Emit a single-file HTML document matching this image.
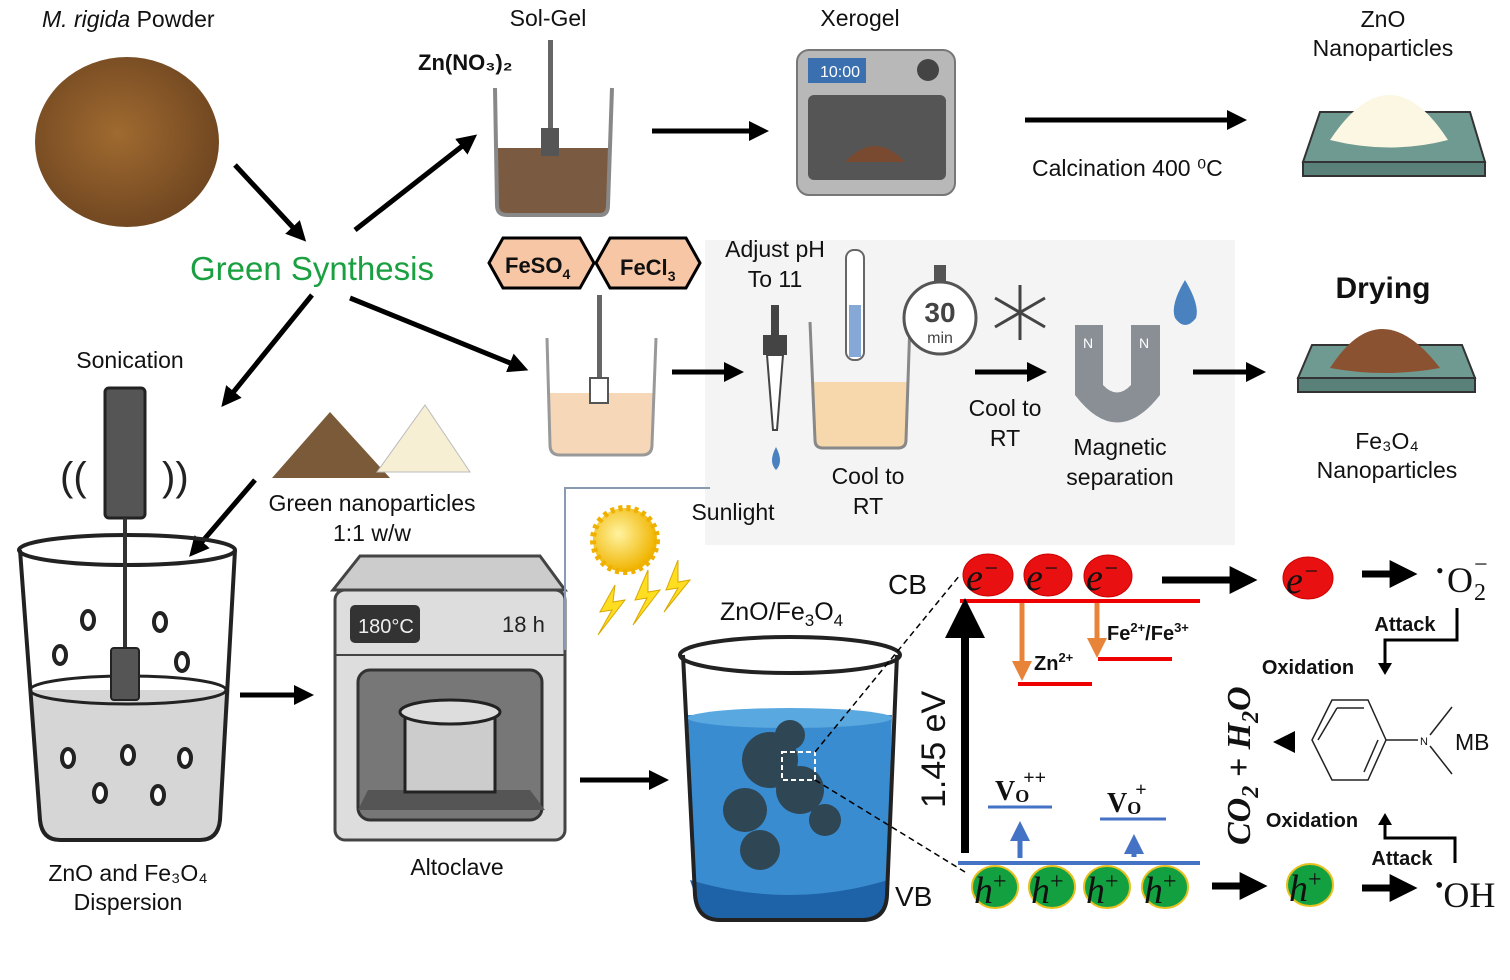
<!DOCTYPE html>
<html><head><meta charset="utf-8"><style>
html,body{margin:0;padding:0;background:#fff;width:1510px;height:980px;overflow:hidden}
svg{display:block}
text{font-family:"Liberation Sans",sans-serif;fill:#111}
.s{font-family:"Liberation Serif",serif}
</style></head><body>
<svg width="1510" height="980" viewBox="0 0 1510 980" xmlns="http://www.w3.org/2000/svg">
<defs>
<marker id="ah" markerWidth="4" markerHeight="4" refX="2.2" refY="2" orient="auto" markerUnits="strokeWidth"><path d="M0,0L4,2L0,4z" fill="#000"/></marker>
<marker id="ao" markerWidth="4" markerHeight="4" refX="2.2" refY="2" orient="auto" markerUnits="strokeWidth"><path d="M0,0L4,2L0,4z" fill="#e8843a"/></marker>
<marker id="ab" markerWidth="4" markerHeight="4" refX="2.2" refY="2" orient="auto" markerUnits="strokeWidth"><path d="M0,0L4,2L0,4z" fill="#4472c4"/></marker>
<marker id="ak" markerWidth="5" markerHeight="5" refX="2.5" refY="2.5" orient="auto" markerUnits="strokeWidth"><path d="M0,0L5,2.5L0,5z" fill="#000"/></marker>
<radialGradient id="pw" cx="0.45" cy="0.45" r="0.6"><stop offset="0" stop-color="#a06a30"/><stop offset="1" stop-color="#6e4520"/></radialGradient>
<radialGradient id="sun" cx="0.4" cy="0.4" r="0.6"><stop offset="0" stop-color="#fff3a0"/><stop offset="1" stop-color="#f0b400"/></radialGradient>
</defs>

<rect x="705" y="240" width="530" height="305" fill="#f4f4f4"/>

<text x="42" y="27" font-size="23"><tspan font-style="italic">M. rigida</tspan> Powder</text>
<ellipse cx="127" cy="142" rx="92" ry="85" fill="url(#pw)"/>

<text x="190" y="280" font-size="33" style="fill:#1aa040">Green Synthesis</text>
<g stroke="#000" stroke-width="5" fill="none">
<line x1="235" y1="165" x2="300" y2="235" marker-end="url(#ah)"/>
<line x1="355" y1="230" x2="470" y2="140" marker-end="url(#ah)"/>
<line x1="312" y1="295" x2="227" y2="400" marker-end="url(#ah)"/>
<line x1="350" y1="298" x2="520" y2="367" marker-end="url(#ah)"/>
<line x1="255" y1="480" x2="195" y2="550" marker-end="url(#ah)"/>
<line x1="652" y1="131" x2="760" y2="131" marker-end="url(#ah)"/>
<line x1="1025" y1="120" x2="1238" y2="120" marker-end="url(#ah)"/>
<line x1="672" y1="372" x2="735" y2="372" marker-end="url(#ah)"/>
<line x1="975" y1="372" x2="1038" y2="372" marker-end="url(#ah)"/>
<line x1="1193" y1="372" x2="1257" y2="372" marker-end="url(#ah)"/>
<line x1="240" y1="695" x2="305" y2="695" marker-end="url(#ah)"/>
<line x1="580" y1="780" x2="660" y2="780" marker-end="url(#ah)"/>
</g>

<text x="548" y="26" font-size="23" text-anchor="middle">Sol-Gel</text>
<text x="418" y="70" font-size="22" font-weight="bold">Zn(NO₃)₂</text>
<path d="M497,148 L497,205 Q497,215 507,215 L600,215 Q608,215 608,205 L608,148Z" fill="#7a5a40"/>
<path d="M495,88 L497,205 Q497,215 507,215 L600,215 Q608,215 608,205 L612,88" fill="none" stroke="#888" stroke-width="4"/>
<rect x="548" y="40" width="5" height="90" fill="#666"/>
<rect x="541" y="128" width="18" height="28" fill="#555"/>

<text x="860" y="26" font-size="23" text-anchor="middle">Xerogel</text>
<rect x="797" y="50" width="158" height="145" rx="12" fill="#b8b8b8" stroke="#777" stroke-width="2"/>
<rect x="808" y="58" width="58" height="25" fill="#3a6fb0"/><text x="820" y="77" font-size="16" style="fill:#fff">10:00</text>
<circle cx="928" cy="70" r="11" fill="#444"/>
<rect x="808" y="95" width="138" height="85" rx="6" fill="#555"/>
<path d="M845,162 Q875,130 905,162Z" fill="#7a4a30"/>
<text x="1383" y="27" font-size="23" text-anchor="middle">ZnO</text>
<text x="1383" y="56" font-size="23" text-anchor="middle">Nanoparticles</text>
<path d="M1320,112 L1470,112 L1485,162 L1303,162Z" fill="#6f9a92" stroke="#333" stroke-width="2"/>
<rect x="1303" y="162" width="182" height="14" fill="#5a807a" stroke="#333" stroke-width="2"/>
<path d="M1330,140 Q1390,50 1448,140 Q1390,155 1330,140Z" fill="#fbf7e2"/>
<text x="1032" y="176" font-size="23">Calcination 400 ⁰C</text>

<path d="M503,238 L580,238 L594,263 L580,288 L503,288 L489,263Z" fill="#f7c6a5" stroke="#000" stroke-width="3"/>
<path d="M610,238 L686,238 L700,263 L686,288 L610,288 L596,263Z" fill="#f7c6a5" stroke="#000" stroke-width="3"/>
<text x="505" y="273" font-size="22" font-weight="bold">FeSO<tspan font-size="14" dy="6">4</tspan></text>
<text x="620" y="275" font-size="22" font-weight="bold">FeCl<tspan font-size="14" dy="6">3</tspan></text>
<path d="M549,393 L550,445 Q550,455 560,455 L642,455 Q652,455 652,445 L653,393Z" fill="#f6d7b8"/>
<path d="M547,338 L550,445 Q550,455 560,455 L642,455 Q652,455 652,445 L656,338" fill="none" stroke="#999" stroke-width="3"/>
<rect x="597" y="295" width="5" height="85" fill="#666"/><rect x="590" y="378" width="18" height="25" fill="#fff" stroke="#555" stroke-width="2"/>

<text x="775" y="257" font-size="23" text-anchor="middle">Adjust pH</text>
<text x="775" y="287" font-size="23" text-anchor="middle">To 11</text>
<rect x="771" y="305" width="8" height="30" fill="#444"/>
<rect x="763" y="335" width="24" height="20" fill="#444"/>
<path d="M767,355 L783,355 L777,430 L773,430Z" fill="#fff" stroke="#444" stroke-width="2"/>
<path d="M776,447 Q768,462 776,470 Q784,462 776,447Z" fill="#4a82c0"/>
<path d="M813,382 L815,440 Q815,448 823,448 L898,448 Q906,448 906,440 L908,382Z" fill="#f6d8ac"/>
<path d="M810,322 L815,440 Q815,448 823,448 L898,448 Q906,448 906,440 L910,322" fill="none" stroke="#888" stroke-width="3"/>
<rect x="846" y="250" width="18" height="110" rx="8" fill="#fff" stroke="#666" stroke-width="2"/>
<rect x="849" y="305" width="12" height="52" fill="#86a8d6"/>
<circle cx="940" cy="318" r="36" fill="#fff" stroke="#555" stroke-width="3"/>
<rect x="934" y="265" width="12" height="16" fill="#555"/>
<text x="940" y="322" font-size="28" font-weight="bold" text-anchor="middle" style="fill:#444">30</text>
<text x="940" y="343" font-size="16" text-anchor="middle" style="fill:#444">min</text>
<g stroke="#444" stroke-width="3"><line x1="1020" y1="285" x2="1020" y2="340"/><line x1="995" y1="298" x2="1045" y2="327"/><line x1="995" y1="327" x2="1045" y2="298"/></g>
<text x="1005" y="416" font-size="23" text-anchor="middle">Cool to</text>
<text x="1005" y="446" font-size="23" text-anchor="middle">RT</text>
<text x="868" y="484" font-size="23" text-anchor="middle">Cool to</text>
<text x="868" y="514" font-size="23" text-anchor="middle">RT</text>
<path d="M1075,325 L1103,325 L1103,385 Q1117,400 1131,385 L1131,325 L1160,325 L1160,395 Q1117,450 1075,395Z" fill="#8a8f96"/>
<text x="1083" y="348" font-size="14" style="fill:#fff">N</text><text x="1139" y="348" font-size="14" style="fill:#fff">N</text>
<path d="M1185,280 Q1170,305 1175,318 Q1185,332 1196,318 Q1200,305 1185,280Z" fill="#4a82c0"/>
<text x="1120" y="455" font-size="23" text-anchor="middle">Magnetic</text>
<text x="1120" y="485" font-size="23" text-anchor="middle">separation</text>
<text x="1383" y="298" font-size="30" font-weight="bold" text-anchor="middle">Drying</text>
<path d="M1312,345 L1462,345 L1475,378 L1298,378Z" fill="#6f9a92" stroke="#333" stroke-width="2"/>
<rect x="1298" y="378" width="177" height="14" fill="#5a807a" stroke="#333" stroke-width="2"/>
<path d="M1330,368 Q1380,290 1440,368 Q1385,378 1330,368Z" fill="#8b5232"/>
<text x="1387" y="449" font-size="23" text-anchor="middle">Fe₃O₄</text>
<text x="1387" y="478" font-size="23" text-anchor="middle">Nanoparticles</text>

<text x="130" y="368" font-size="23" text-anchor="middle">Sonication</text>
<rect x="105" y="388" width="40" height="130" rx="4" fill="#555" stroke="#222" stroke-width="3"/>
<text x="60" y="490" font-size="40" style="fill:#222">((</text><text x="162" y="490" font-size="40" style="fill:#222">))</text>
<path d="M30,690 L40,820 Q42,840 60,840 L200,840 Q218,840 220,820 L230,690Z" fill="#d6d6d6"/>
<path d="M20,550 L40,820 Q42,840 60,840 L200,840 Q218,840 220,820 L235,550" fill="none" stroke="#222" stroke-width="4"/>
<ellipse cx="127" cy="550" rx="108" ry="15" fill="none" stroke="#222" stroke-width="4"/>
<ellipse cx="128" cy="690" rx="98" ry="14" fill="none" stroke="#222" stroke-width="3"/>
<rect x="123" y="518" width="4" height="132" fill="#333"/>
<rect x="111" y="648" width="28" height="52" rx="3" fill="#555" stroke="#222" stroke-width="2"/>
<g fill="#fff" stroke="#222" stroke-width="4"><ellipse cx="88" cy="620" rx="6" ry="9"/><ellipse cx="160" cy="622" rx="6" ry="9"/><ellipse cx="60" cy="655" rx="6" ry="9"/><ellipse cx="182" cy="662" rx="6" ry="9"/><ellipse cx="68" cy="758" rx="6" ry="9"/><ellipse cx="128" cy="755" rx="6" ry="9"/><ellipse cx="185" cy="758" rx="6" ry="9"/><ellipse cx="100" cy="793" rx="6" ry="9"/><ellipse cx="158" cy="795" rx="6" ry="9"/></g>
<text x="128" y="881" font-size="23" text-anchor="middle">ZnO and Fe₃O₄</text>
<text x="128" y="910" font-size="23" text-anchor="middle">Dispersion</text>

<path d="M272,478 L330,412 L390,478Z" fill="#7a5a38"/>
<path d="M377,472 L425,405 L470,472Z" fill="#f7efd4" stroke="#bbb"/>
<text x="372" y="511" font-size="23" text-anchor="middle">Green nanoparticles</text>
<text x="372" y="541" font-size="23" text-anchor="middle">1:1 w/w</text>

<path d="M360,556 L540,556 L565,590 L333,590Z" fill="#ccc" stroke="#444" stroke-width="3"/>
<rect x="335" y="590" width="230" height="250" rx="10" fill="#ddd" stroke="#444" stroke-width="3"/>
<rect x="350" y="605" width="70" height="38" rx="5" fill="#333"/><text x="358" y="633" font-size="20" style="fill:#eee">180°C</text>
<text x="502" y="632" font-size="22" style="fill:#222">18 h</text>
<line x1="335" y1="655" x2="565" y2="655" stroke="#444" stroke-width="2"/>
<rect x="358" y="670" width="184" height="150" rx="12" fill="#777" stroke="#333" stroke-width="3"/>
<path d="M368,790 L530,790 L545,810 L358,810Z" fill="#555"/>
<rect x="405" y="712" width="90" height="80" fill="#ccc" stroke="#222" stroke-width="3"/>
<ellipse cx="450" cy="712" rx="50" ry="12" fill="#ddd" stroke="#222" stroke-width="3"/>
<text x="457" y="875" font-size="23" text-anchor="middle">Altoclave</text>

<polyline points="565,650 565,488 710,488" fill="none" stroke="#8a9ab0" stroke-width="2"/>
<circle cx="625" cy="540" r="32" fill="url(#sun)" stroke="#f0b000" stroke-width="6" stroke-dasharray="4 4"/>
<g fill="#ffdd20" stroke="#d8a800"><path d="M615,585 L600,612 L612,610 L598,635 L625,600 L613,602Z"/><path d="M648,570 L635,600 L647,598 L633,625 L660,590 L648,592Z"/><path d="M678,560 L666,590 L678,588 L664,612 L690,580 L678,582Z"/></g>
<text x="733" y="520" font-size="23" text-anchor="middle">Sunlight</text>
<text x="720" y="620" font-size="25">ZnO/Fe<tspan font-size="17" dy="6">3</tspan><tspan dy="-6">O</tspan><tspan font-size="17" dy="6">4</tspan></text>

<path d="M688,715 L695,895 Q697,920 720,920 L862,920 Q886,920 887,895 L892,715Z" fill="#3a8cd0"/>
<path d="M690,880 Q790,910 888,880 L887,895 Q886,920 862,920 L720,920 Q697,920 695,895Z" fill="#1e62a8"/>
<path d="M683,655 L695,895 Q697,920 720,920 L862,920 Q886,920 887,895 L897,655" fill="none" stroke="#222" stroke-width="4"/>
<ellipse cx="790" cy="655" rx="110" ry="18" fill="none" stroke="#222" stroke-width="4"/>
<ellipse cx="790" cy="718" rx="102" ry="10" fill="#5aa8e0"/>
<g fill="#2f4655"><circle cx="770" cy="760" r="28"/><circle cx="800" cy="790" r="24"/><circle cx="745" cy="810" r="22"/><circle cx="760" cy="850" r="20"/><circle cx="825" cy="820" r="16"/><circle cx="790" cy="735" r="15"/></g>
<rect x="782" y="752" width="33" height="28" fill="none" stroke="#fff" stroke-width="2" stroke-dasharray="5 3"/>
<line x1="815" y1="752" x2="960" y2="575" stroke="#000" stroke-width="1.5" stroke-dasharray="6 4"/>
<line x1="815" y1="780" x2="965" y2="872" stroke="#000" stroke-width="1.5" stroke-dasharray="6 4"/>

<text x="888" y="594" font-size="28">CB</text>
<text x="895" y="906" font-size="28">VB</text>
<line x1="960" y1="601" x2="1200" y2="601" stroke="#e00" stroke-width="4"/>
<line x1="958" y1="863" x2="1200" y2="863" stroke="#4472c4" stroke-width="4"/>
<line x1="965" y1="853" x2="965" y2="618" stroke="#000" stroke-width="8" marker-end="url(#ak)"/>
<text transform="translate(945,808) rotate(-90)" font-size="34">1.45 eV</text>
<line x1="1022" y1="603" x2="1022" y2="672" stroke="#e8843a" stroke-width="5" marker-end="url(#ao)"/>
<line x1="1097" y1="603" x2="1097" y2="649" stroke="#e8843a" stroke-width="5" marker-end="url(#ao)"/>
<line x1="1018" y1="684" x2="1092" y2="684" stroke="#e00" stroke-width="4"/>
<line x1="1098" y1="659" x2="1172" y2="659" stroke="#e00" stroke-width="4"/>
<text x="1034" y="670" font-size="20" font-weight="bold">Zn<tspan font-size="13" dy="-8">2+</tspan></text>
<text x="1107" y="640" font-size="20" font-weight="bold">Fe<tspan font-size="13" dy="-8">2+</tspan><tspan dy="8">/Fe</tspan><tspan font-size="13" dy="-8">3+</tspan></text>
<g fill="#e81010" stroke="#c00"><ellipse cx="988" cy="575" rx="25" ry="21"/><ellipse cx="1048" cy="575" rx="24" ry="21"/><ellipse cx="1108" cy="576" rx="24" ry="21"/><ellipse cx="1308" cy="578" rx="25" ry="21"/></g>
<text class="s" x="966" y="590" font-size="38" font-style="italic">e<tspan font-size="24" dy="-14">−</tspan></text>
<text class="s" x="1026" y="590" font-size="38" font-style="italic">e<tspan font-size="24" dy="-14">−</tspan></text>
<text class="s" x="1086" y="590" font-size="38" font-style="italic">e<tspan font-size="24" dy="-14">−</tspan></text>
<text class="s" x="1286" y="593" font-size="38" font-style="italic">e<tspan font-size="24" dy="-14">−</tspan></text>
<g fill="#12a040" stroke="#e8c020" stroke-width="2"><ellipse cx="995" cy="887" rx="23" ry="21"/><ellipse cx="1052" cy="887" rx="23" ry="21"/><ellipse cx="1107" cy="887" rx="23" ry="21"/><ellipse cx="1165" cy="887" rx="23" ry="21"/><ellipse cx="1310" cy="885" rx="23" ry="21"/></g>
<text class="s" x="974" y="903" font-size="38" font-style="italic">h<tspan font-size="24" dy="-14" font-style="normal">+</tspan></text>
<text class="s" x="1031" y="903" font-size="38" font-style="italic">h<tspan font-size="24" dy="-14" font-style="normal">+</tspan></text>
<text class="s" x="1086" y="903" font-size="38" font-style="italic">h<tspan font-size="24" dy="-14" font-style="normal">+</tspan></text>
<text class="s" x="1144" y="903" font-size="38" font-style="italic">h<tspan font-size="24" dy="-14" font-style="normal">+</tspan></text>
<text class="s" x="1289" y="901" font-size="38" font-style="italic">h<tspan font-size="24" dy="-14" font-style="normal">+</tspan></text>
<line x1="988" y1="807" x2="1052" y2="807" stroke="#4472c4" stroke-width="3"/>
<line x1="1100" y1="819" x2="1166" y2="819" stroke="#4472c4" stroke-width="3"/>
<line x1="1020" y1="858" x2="1020" y2="830" stroke="#4472c4" stroke-width="5" marker-end="url(#ab)"/>
<line x1="1134" y1="857" x2="1134" y2="843" stroke="#4472c4" stroke-width="5" marker-end="url(#ab)"/>
<text class="s" x="995" y="800" font-size="28" font-weight="bold">V<tspan font-size="18" dy="2">O</tspan><tspan font-size="20" dy="-18" dx="-6">++</tspan></text>
<text class="s" x="1107" y="812" font-size="28" font-weight="bold">V<tspan font-size="18" dy="2">O</tspan><tspan font-size="20" dy="-18" dx="-6">+</tspan></text>

<g stroke="#000" stroke-width="7" fill="none">
<line x1="1162" y1="580" x2="1245" y2="580" marker-end="url(#ah)"/>
<line x1="1362" y1="574" x2="1405" y2="574" marker-end="url(#ah)"/>
<line x1="1212" y1="886" x2="1255" y2="886" marker-end="url(#ah)"/>
<line x1="1362" y1="888" x2="1405" y2="888" marker-end="url(#ah)"/>
</g>
<text class="s" x="1436" y="578" font-size="22">•</text>
<text class="s" x="1447" y="592" font-size="36">O</text>
<text class="s" x="1474" y="600" font-size="24">2</text>
<text class="s" x="1474" y="572" font-size="24">−</text>
<text class="s" x="1435" y="907" font-size="36"><tspan font-size="24" dy="-14">•</tspan><tspan dy="14">OH</tspan></text>
<text x="1405" y="631" font-size="20" font-weight="bold" text-anchor="middle">Attack</text>
<polyline points="1457,608 1457,640 1385,640 1385,665" fill="none" stroke="#000" stroke-width="3"/>
<path d="M1378,663 L1392,663 L1385,675Z"/>
<text x="1308" y="674" font-size="20" font-weight="bold" text-anchor="middle">Oxidation</text>
<text x="1312" y="827" font-size="20" font-weight="bold" text-anchor="middle">Oxidation</text>
<text x="1402" y="865" font-size="20" font-weight="bold" text-anchor="middle">Attack</text>
<polyline points="1455,863 1455,838 1385,838 1385,822" fill="none" stroke="#000" stroke-width="3"/>
<path d="M1378,825 L1392,825 L1385,813Z"/>
<path d="M1295,731 L1273,742 L1295,753Z"/>
<g stroke="#222" stroke-width="1.5" fill="none"><path d="M1332,700 L1368,700 L1386,740 L1368,780 L1332,780 L1312,740Z"/><path d="M1337,708 L1364,708 M1378,740 L1364,772 M1318,740 L1337,708"/><line x1="1386" y1="740" x2="1418" y2="740"/><line x1="1430" y1="735" x2="1452" y2="707"/><line x1="1430" y1="746" x2="1452" y2="774"/></g>
<text x="1420" y="745" font-size="11">N</text>
<text x="1455" y="750" font-size="23">MB</text>
<text class="s" transform="translate(1250,845) rotate(-90)" font-size="34" font-weight="bold" font-style="italic">CO<tspan font-size="24" dy="8">2</tspan><tspan dy="-8"> + H</tspan><tspan font-size="24" dy="8">2</tspan><tspan dy="-8">O</tspan></text>
</svg>
</body></html>
